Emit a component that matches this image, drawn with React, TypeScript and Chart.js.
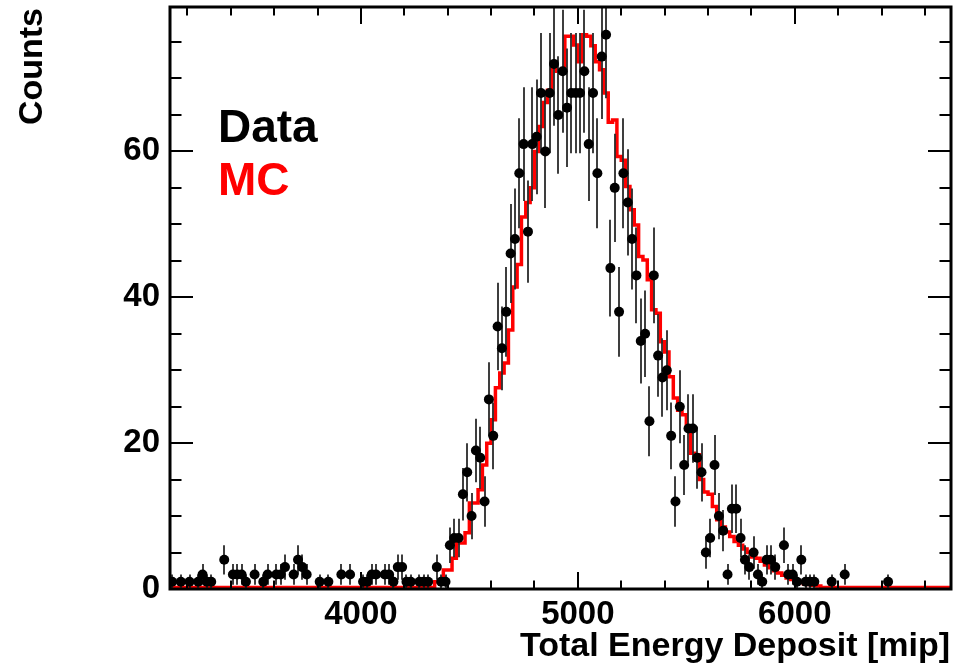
import React, { useEffect, useRef } from 'react';
import { Chart, registerables } from 'chart.js';

Chart.register(...registerables);

// ---- axis definition ----
const X_MIN = 3120;
const X_MAX = 6720;
const BIN_WIDTH = 20;
const Y_MIN = 0;
const Y_MAX = 79.8;
const xTickLabels = [4000, 5000, 6000];
const yTickLabels = [0, 20, 40, 60];
const X_MINOR_STEP = 200;
const Y_MINOR_STEP = 5;

// ---- data histogram (bin index, counts) ----
const dataBins = [
  0, 2, 4, 6, 7, 8, 9, 12, 14, 15, 16, 17, 19, 21, 22, 24, 25, 26, 28, 29, 30, 31, 34, 36, 39, 41,
  44, 45, 46, 47, 49, 50, 51, 52, 53, 54, 55, 57, 58, 59, 61, 62, 63,
  64, 65, 66, 67, 68, 69, 70, 71, 72, 73, 74, 75, 76, 77, 78, 79, 80, 81, 82, 83, 84, 85, 86, 87,
  88, 89, 90, 91, 92, 93, 94, 95, 96, 97, 98, 99, 100, 101, 102, 103, 104, 105, 106, 107, 108,
  109, 110, 111, 112, 113, 114, 115, 116, 117, 118, 119, 120, 121, 122, 123, 124, 125, 126, 127,
  128, 129, 130, 131, 132, 133, 134, 135, 136, 137, 138, 139, 141, 142, 143, 144, 145, 146, 147,
  148, 152, 155, 165,
];
const dataCounts = [
  1, 1, 1, 1, 2, 1, 1, 4, 2, 2, 2, 1, 2, 1, 2, 2, 2, 3, 2, 4, 3, 2, 1, 1, 2, 2,
  1, 1, 2, 2, 2, 2, 1, 3, 3, 1, 1, 1, 1, 1, 3, 1, 1,
  6, 7, 7, 13, 16, 10, 19, 18, 12, 26, 21, 36, 33, 38, 46, 48, 57, 61, 49, 61, 62, 68, 60, 68,
  72, 65, 71, 66, 68, 68, 68, 71, 61, 68, 57, 73, 76, 44, 55, 38, 57, 53, 48, 43, 34,
  35, 23, 43, 32, 29, 30, 21, 12, 25, 17, 22, 22, 18, 16, 5, 7, 17, 10, 8,
  2, 11, 11, 7, 4, 3, 5, 2, 1, 4, 4, 3, 6, 2, 2, 1, 4, 1, 1,
  1, 1, 2, 1,
];

// ---- MC histogram (low edge of each step in mip, content) ----
const mcEdges = [
  3120, 4340, 4380, 4420, 4440, 4480, 4500, 4540, 4560, 4580, 4600, 4620, 4640, 4660, 4680, 4700,
  4720, 4740, 4760, 4780, 4800, 4820, 4840, 4860, 4880, 4900, 4940, 4980, 5000, 5020, 5040, 5060,
  5080, 5100, 5120, 5140, 5160, 5180, 5200, 5220, 5240, 5260, 5280, 5300, 5320, 5340, 5360, 5380,
  5400, 5420, 5440, 5460, 5480, 5500, 5520, 5540, 5560, 5580, 5600, 5620, 5640, 5660, 5680, 5700,
  5720, 5740, 5760, 5780, 5800, 5820, 5840, 5860, 5880, 5900, 5920, 5940, 5960, 5980, 6000, 6020,
  6040, 6060, 6080, 6100, 6120, 6720,
];
const mcCounts = [
  0.2, 1.0, 2.6, 4.2, 6.3, 7.7, 11.8, 13.6, 17, 20, 23.2, 27.6, 29.6, 31, 35.5, 41.4,
  44.5, 51, 53, 55, 60, 63.4, 66.7, 68.4, 72, 71, 75.8, 74.6, 72.3, 76, 75.8, 74.5,
  72.3, 71.2, 68, 64, 64.3, 59.3, 58.8, 55.2, 52, 49.9, 45.6, 45.1, 42.4, 38.3, 37.8, 33.9,
  32.5, 29.1, 26.2, 24.5, 23.9, 22.3, 18.6, 18.4, 15, 13.3, 13, 11.3, 9.5, 8.5, 7.8, 7.2,
  6.5, 6, 5.5, 5, 4.4, 4.2, 3.8, 3.3, 2.9, 2.5, 2.2, 1.9, 1.5, 1.3, 1.0, 0.9,
  0.7, 0.6, 0.5, 0.4, 0.2, 0.2,
];

const legendItems = [
  { label: 'Data', color: '#000000' },
  { label: 'MC', color: '#ff0000' },
];

const FONT = '"Liberation Sans", Arial, Helvetica, sans-serif';

const rootStyle = {
  id: 'rootStyle',
  beforeDatasetDraw(chart: any, args: any) {
    if (args.index !== 0) return;
    const { ctx, scales } = chart;
    const x = scales.x;
    const y = scales.y;
    ctx.save();
    ctx.strokeStyle = '#2a2a2a';
    ctx.lineWidth = 1.8;
    ctx.beginPath();
    dataCounts.forEach((n, i) => {
      const xv = X_MIN + BIN_WIDTH * (dataBins[i] + 0.5);
      const e = Math.sqrt(n);
      const px = Math.round(x.getPixelForValue(xv));
      ctx.moveTo(px, y.getPixelForValue(Math.max(n - e, Y_MIN)));
      ctx.lineTo(px, y.getPixelForValue(Math.min(n + e, Y_MAX)));
    });
    ctx.stroke();
    ctx.restore();
  },
  afterDatasetsDraw(chart: any) {
    const { ctx, chartArea, scales } = chart;
    const { left, right, top, bottom } = chartArea;
    const x = scales.x;
    const y = scales.y;
    ctx.save();
    ctx.strokeStyle = '#000';
    ctx.lineWidth = 2;
    ctx.beginPath();
    for (let v = Math.ceil(X_MIN / X_MINOR_STEP) * X_MINOR_STEP; v <= X_MAX; v += X_MINOR_STEP) {
      const px = Math.round(x.getPixelForValue(v));
      const major = v % 1000 === 0;
      const len = major ? 17 : 8.5;
      ctx.moveTo(px, bottom);
      ctx.lineTo(px, bottom - len);
      ctx.moveTo(px, top);
      ctx.lineTo(px, top + len);
    }
    for (let v = Y_MIN + Y_MINOR_STEP; v < Y_MAX; v += Y_MINOR_STEP) {
      const py = Math.round(y.getPixelForValue(v));
      const major = v % 20 === 0;
      const len = major ? 23 : 11.5;
      ctx.moveTo(left, py);
      ctx.lineTo(left + len, py);
      ctx.moveTo(right, py);
      ctx.lineTo(right - len, py);
    }
    ctx.stroke();
    ctx.lineWidth = 3;
    ctx.strokeRect(left, top, right - left, bottom - top);
    ctx.restore();
  },
  afterDraw(chart: any) {
    const { ctx } = chart;
    ctx.save();
    ctx.fillStyle = '#000';
    ctx.font = `bold 34px ${FONT}`;
    ctx.textBaseline = 'alphabetic';
    ctx.textAlign = 'right';
    ctx.fillText('Total Energy Deposit [mip]', 950, 656);
    ctx.save();
    ctx.translate(42, 8);
    ctx.rotate(-Math.PI / 2);
    ctx.textAlign = 'right';
    ctx.fillText('Counts', 0, 0);
    ctx.restore();
    ctx.font = `bold 46px ${FONT}`;
    ctx.textAlign = 'left';
    legendItems.forEach((item, i) => {
      ctx.fillStyle = item.color;
      ctx.fillText(item.label, 218, 142 + i * 53);
    });
    ctx.restore();
  },
};

export default function App() {
  const ref = useRef<HTMLCanvasElement | null>(null);
  useEffect(() => {
    if (!ref.current) return;
    const dataPoints = dataBins.map((b, i) => ({ x: X_MIN + BIN_WIDTH * (b + 0.5), y: dataCounts[i] }));
    const mcPoints = mcEdges.map((e, i) => ({ x: e, y: mcCounts[i] }));
    const chart = new Chart(ref.current, {
      type: 'scatter',
      data: {
        datasets: [
          {
            label: 'Data',
            data: dataPoints,
            pointRadius: 5,
            pointBackgroundColor: '#000',
            pointBorderWidth: 0,
            showLine: false,
          } as any,
          {
            type: 'line',
            label: 'MC',
            data: mcPoints,
            stepped: 'before',
            borderColor: '#ff0000',
            borderWidth: 3.5,
            pointRadius: 0,
            fill: false,
            showLine: true,
          } as any,
        ],
      },
      options: {
        responsive: false,
        animation: false,
        devicePixelRatio: 1,
        layout: { padding: { left: 0, right: 4, top: 7, bottom: 0 } },
        plugins: { legend: { display: false }, tooltip: { enabled: false } },
        scales: {
          x: {
            type: 'linear',
            min: X_MIN,
            max: X_MAX,
            grid: { display: false, drawTicks: false },
            border: { display: false },
            afterBuildTicks: (s: any) => {
              s.ticks = xTickLabels.map((v) => ({ value: v }));
            },
            afterFit: (s: any) => {
              s.height = 77;
              s.paddingLeft = 0;
              s.paddingRight = 0;
              s.paddingTop = 0;
              s.paddingBottom = 0;
            },
            ticks: {
              color: '#000',
              padding: 6,
              maxRotation: 0,
              autoSkip: false,
              font: { family: FONT, size: 33, weight: 'bold' },
              callback: (v: any) => String(v),
            },
          },
          y: {
            type: 'linear',
            min: Y_MIN,
            max: Y_MAX,
            grid: { display: false, drawTicks: false },
            border: { display: false },
            afterBuildTicks: (s: any) => {
              s.ticks = yTickLabels.map((v) => ({ value: v }));
            },
            afterFit: (s: any) => {
              s.width = 170;
              s.paddingLeft = 0;
              s.paddingRight = 0;
              s.paddingTop = 0;
              s.paddingBottom = 0;
            },
            ticks: {
              color: '#000',
              padding: 10,
              autoSkip: false,
              font: { family: FONT, size: 33, weight: 'bold' },
              callback: (v: any) => String(v),
            },
          },
        },
      },
      plugins: [rootStyle],
    });
    return () => chart.destroy();
  }, []);
  return (
    <div style={{ position: 'absolute', left: 0, top: 0, width: 956, height: 666, background: '#fff' }}>
      <canvas ref={ref} width={956} height={666} style={{ width: 956, height: 666 }} />
    </div>
  );
}
